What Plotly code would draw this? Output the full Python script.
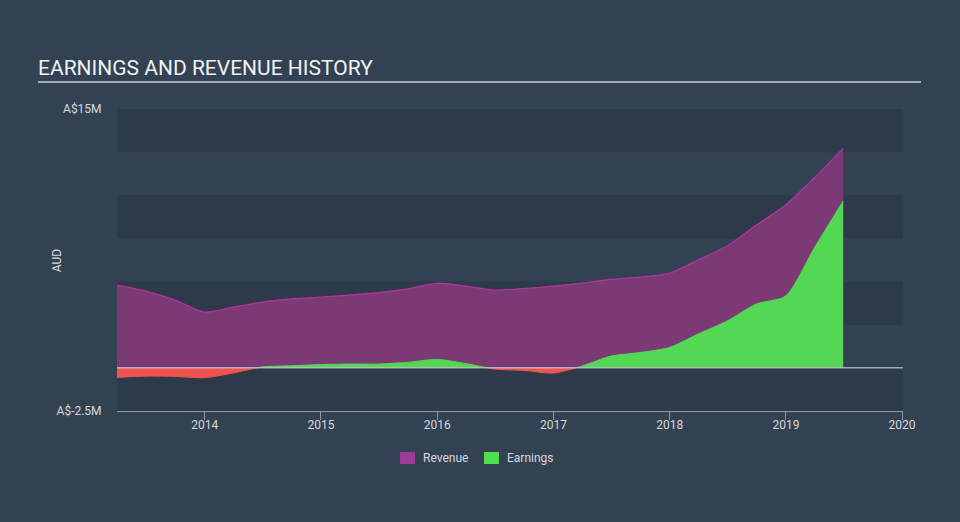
import plotly.graph_objects as go

# ---- data (quarter ends, A$ millions) ----
dates = [
    "2013-03-31", "2013-06-30", "2013-09-30", "2013-12-31",
    "2014-03-31", "2014-06-30", "2014-09-30", "2014-12-31",
    "2015-03-31", "2015-06-30", "2015-09-30", "2015-12-31",
    "2016-03-31", "2016-06-30", "2016-09-30", "2016-12-31",
    "2017-03-31", "2017-06-30", "2017-09-30", "2017-12-31",
    "2018-03-31", "2018-06-30", "2018-09-30", "2018-12-31",
    "2019-03-31", "2019-06-30",
]
revenue = [
    4.80, 4.45, 3.93, 3.23,
    3.52, 3.81, 3.99, 4.10,
    4.22, 4.36, 4.57, 4.90,
    4.74, 4.51, 4.60, 4.74,
    4.91, 5.12, 5.26, 5.48,
    6.25, 7.06, 8.27, 9.43,
    11.00, 12.72,
]
earnings = [
    -0.55, -0.48, -0.50, -0.57,
    -0.30, 0.05, 0.12, 0.19,
    0.22, 0.22, 0.32, 0.49,
    0.25, -0.07, -0.15, -0.30,
    0.10, 0.68, 0.89, 1.18,
    1.96, 2.71, 3.70, 4.16,
    6.94, 9.67,
]
year_ticks = ["2014-01-01", "2015-01-01", "2016-01-01", "2017-01-01",
              "2018-01-01", "2019-01-01", "2020-01-01"]
year_labels = ["2014", "2015", "2016", "2017", "2018", "2019", "2020"]
y_min, y_max = -2.5, 15
y_tick_vals = [15, -2.5]
y_tick_text = ["A$15M", "A$-2.5M"]
legend_names = ["Revenue", "Earnings"]

# ---- style ----
BG = "#334252"
BAND = "#2d3a49"
REV_FILL = "#7b3a74"
REV_LINE = "#b0339f"
EARN_POS = "#52d852"
EARN_NEG = "#ef5350"
LEG_COLORS = ["#9e3a97", "#4fe04f"]
TXT = "#d5d9de"
FONT = "Roboto"

span = y_max - y_min
d0 = (0 - y_min) / span  # paper position of zero


def p(v):
    return (v - y_min) / span


fig = go.Figure()

fig.add_trace(go.Scatter(
    x=dates, y=revenue, mode="lines", line=dict(color=REV_LINE, width=1.3, shape="spline", smoothing=0.7),
    fill="tozeroy", fillcolor=REV_FILL, showlegend=False, hoverinfo="skip",
    xaxis="x", yaxis="y"))
# negative earnings (clipped to area below zero)
fig.add_trace(go.Scatter(
    x=dates, y=earnings, mode="lines", line=dict(color=EARN_NEG, width=1, shape="spline", smoothing=0.7),
    fill="tozeroy", fillcolor=EARN_NEG, showlegend=False, hoverinfo="skip",
    xaxis="x", yaxis="y2"))
# positive earnings (clipped to area above zero)
fig.add_trace(go.Scatter(
    x=dates, y=earnings, mode="lines", line=dict(color=EARN_POS, width=1, shape="spline", smoothing=0.7),
    fill="tozeroy", fillcolor=EARN_POS, showlegend=False, hoverinfo="skip",
    xaxis="x", yaxis="y3"))

shapes = []
for lo, hi in [(12.5, 15), (7.5, 10), (2.5, 5), (-2.5, 0)]:
    shapes.append(dict(type="rect", xref="paper", yref="paper", x0=0, x1=1,
                       y0=p(lo), y1=p(hi), fillcolor=BAND, line=dict(width=0), layer="below"))
shapes.append(dict(type="line", xref="paper", yref="paper", x0=0, x1=1, y0=d0, y1=d0,
                   line=dict(color="rgba(200,205,212,0.75)", width=1.5), layer="above"))
# title underline
shapes.append(dict(type="line", xref="paper", yref="paper", x0=-0.1005, x1=1.0229,
                   y0=1.0894, y1=1.0894, line=dict(color="#a3abb4", width=2)))

# manual legend
leg_sq_x = [0.3601, 0.4669]
leg_txt_x = [0.3868, 0.4936]
annotations = [
    dict(text="EARNINGS AND REVENUE HISTORY", xref="paper", yref="paper",
         x=-0.1031, y=1.136, xanchor="left", yanchor="middle", showarrow=False,
         font=dict(size=21, color="#f0f2f4", family=FONT)),
    dict(text="AUD", xref="paper", yref="paper", x=-0.076, y=0.5, textangle=-90,
         xanchor="center", yanchor="middle", showarrow=False,
         font=dict(size=12, color=TXT, family=FONT)),
]
for name, col, sx, tx in zip(legend_names, LEG_COLORS, leg_sq_x, leg_txt_x):
    shapes.append(dict(type="rect", xref="paper", yref="paper", x0=sx, x1=sx + 0.0191,
                       y0=-0.1755, y1=-0.1358, fillcolor=col, line=dict(width=0)))
    annotations.append(dict(text=name, xref="paper", yref="paper", x=tx, y=-0.1556,
                            xanchor="left", yanchor="middle", showarrow=False,
                            font=dict(size=12, color=TXT, family=FONT)))

fig.update_layout(
    width=960, height=522,
    margin=dict(l=117, r=57, t=109, b=111),
    paper_bgcolor=BG, plot_bgcolor="rgba(0,0,0,0)",
    font=dict(family=FONT, color=TXT, size=12),
    shapes=shapes,
    annotations=annotations,
    showlegend=False,
    xaxis=dict(type="date", range=["2013-03-31", "2020-01-04"], anchor="y",
               tickvals=year_ticks, ticktext=year_labels,
               showgrid=False, zeroline=False, showline=True, linecolor="#8c97a3", linewidth=1,
               ticks="outside", ticklen=8, tickcolor="#8c97a3", ticklabelstandoff=-5,
               tickfont=dict(size=12, color=TXT)),
    yaxis=dict(range=[y_min, y_max], domain=[0, 1], tickvals=y_tick_vals, ticktext=y_tick_text,
               showgrid=False, zeroline=False, showline=False,
               ticks="outside", ticklen=12, tickcolor="rgba(0,0,0,0)", tickfont=dict(size=12, color=TXT)),
    yaxis2=dict(range=[y_min, 0], domain=[0, d0], visible=False, anchor="x",
                showgrid=False, zeroline=False),
    yaxis3=dict(range=[0, y_max], domain=[d0, 1], visible=False, anchor="x",
                showgrid=False, zeroline=False),
    hovermode=False,
)

fig.write_html("out.html")
